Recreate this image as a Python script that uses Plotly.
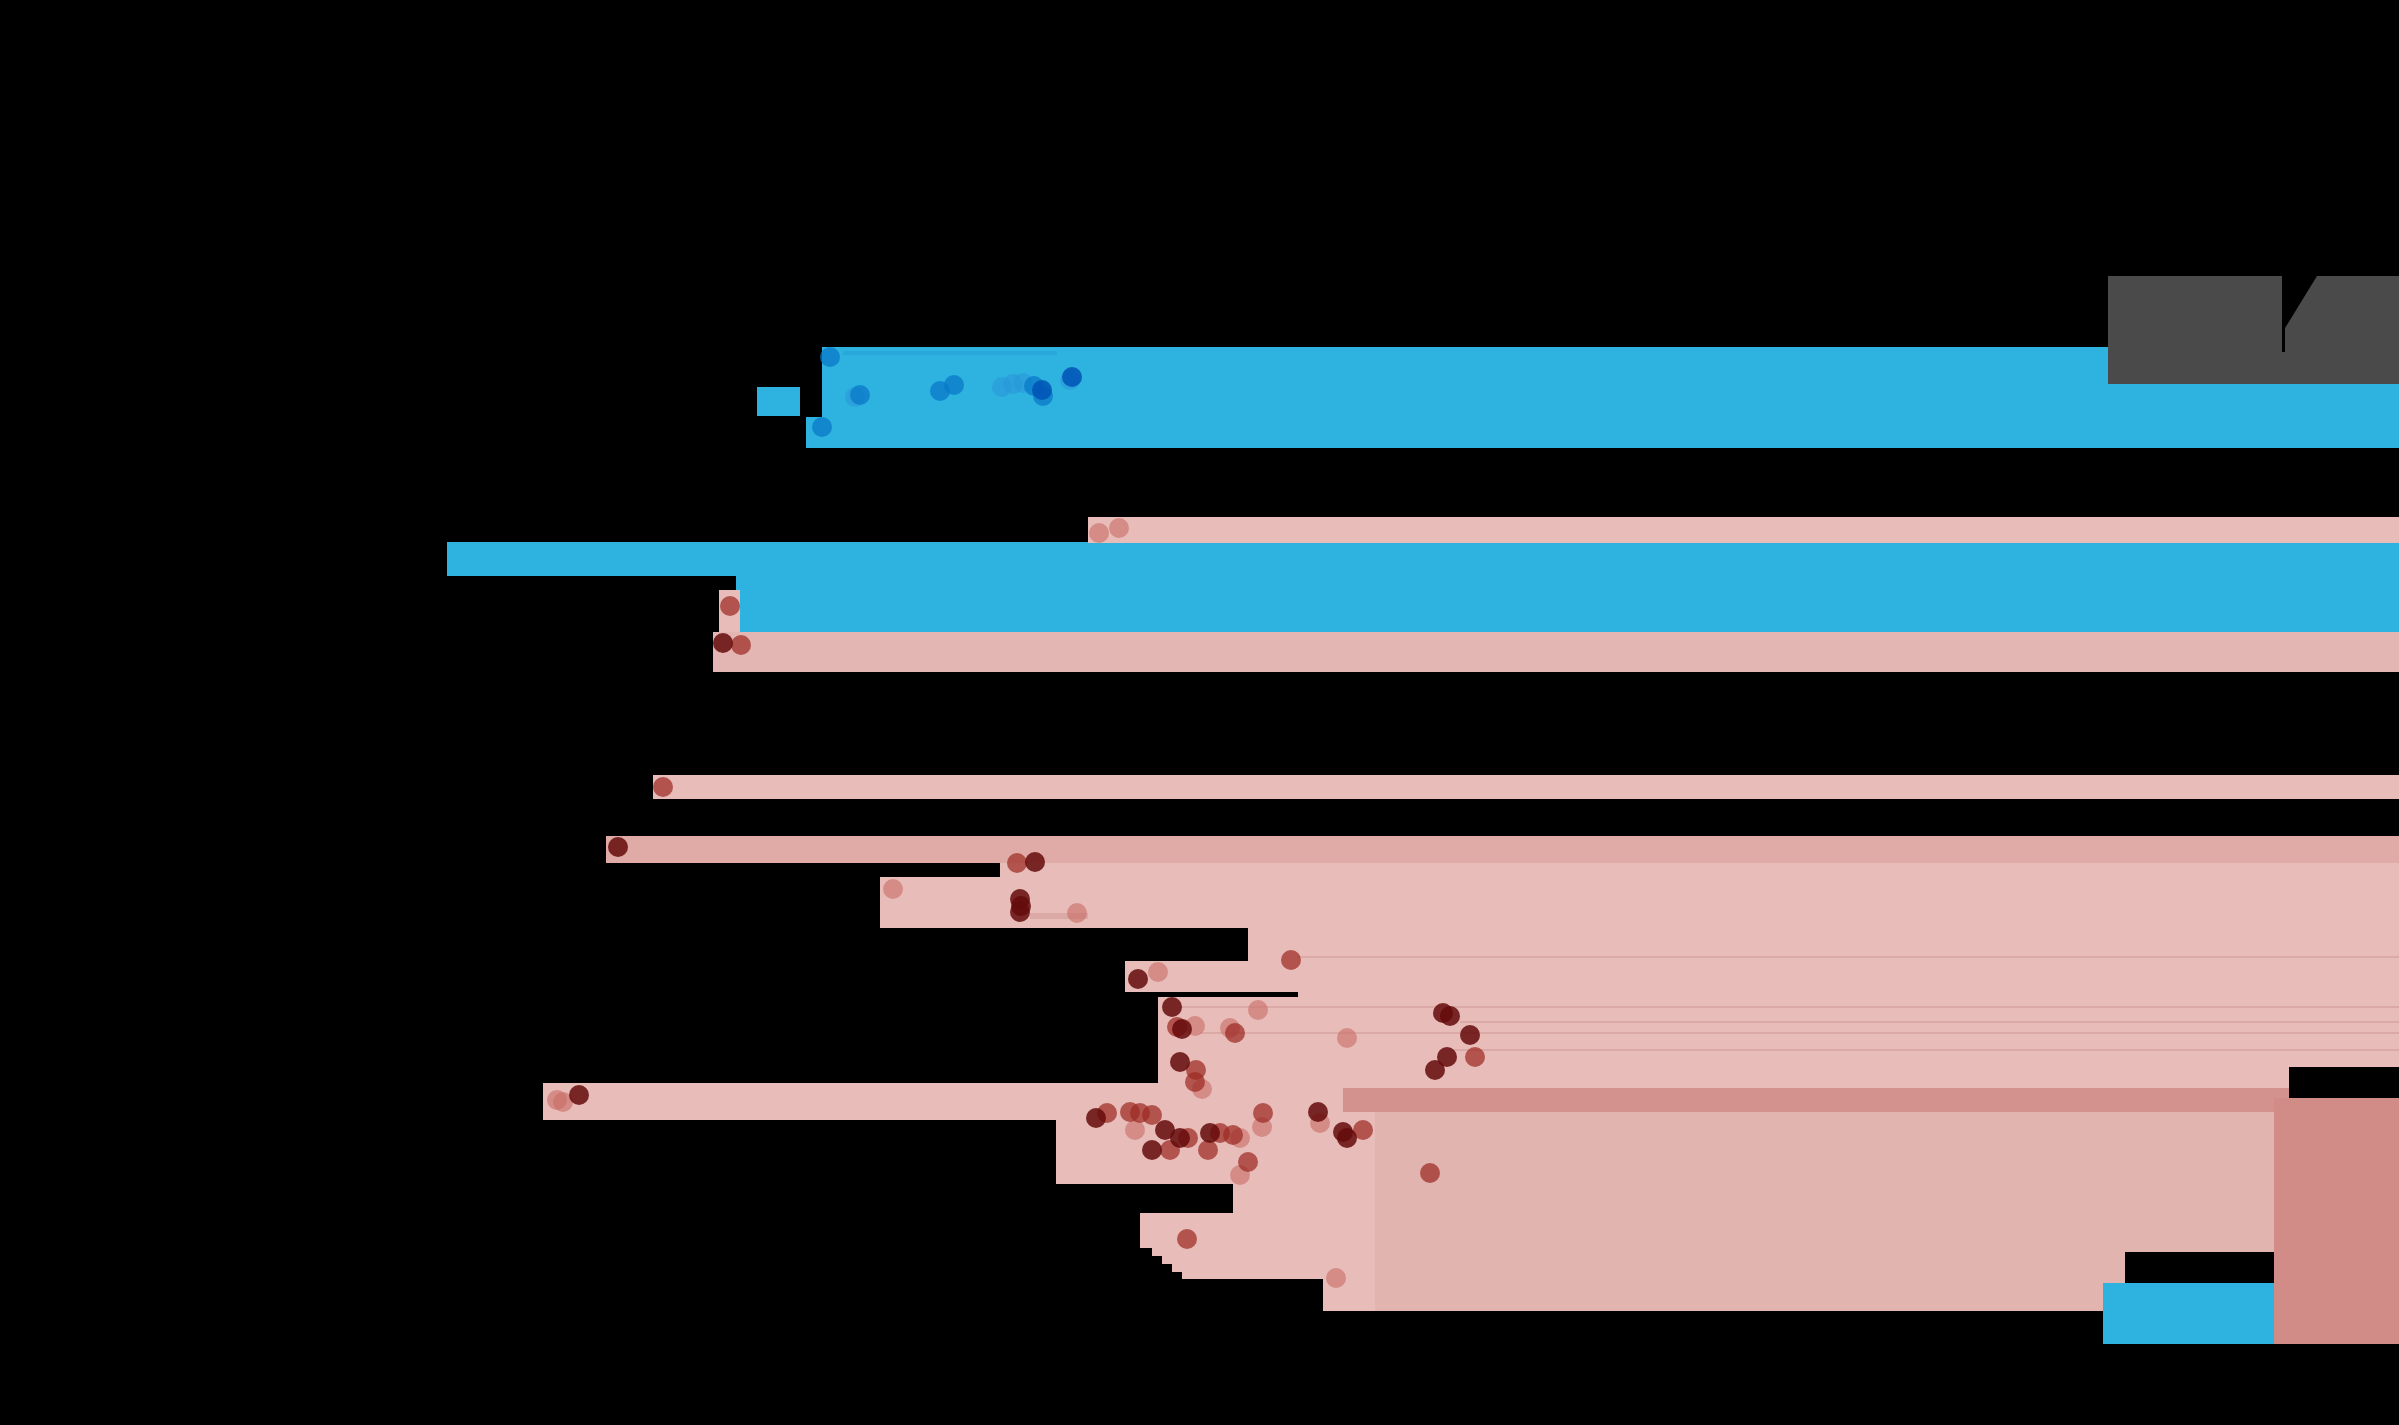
import plotly.graph_objects as go

# ---- canvas extent (data units = pixels of the original picture)
canvas_w = 2399
canvas_h = 1425

# ---- horizontal bands: top, bottom, left, right, tone
band_top    = [347, 417, 387, 351, 542, 576, 517, 590, 632, 775, 836, 863, 877, 928, 961, 992, 997, 1083, 1120, 1184, 1213, 1248, 1256, 1264, 1272, 1279, 1112, 1006, 1021, 1032, 1049, 956, 913, 1088, 1098, 1067, 1252, 1283, 276]
band_bottom = [417, 448, 416, 355, 576, 632, 543, 632, 672, 799, 863, 877, 928, 961, 992, 997, 1083, 1120, 1184, 1213, 1248, 1256, 1264, 1272, 1279, 1311, 1311, 1008, 1023, 1034, 1051, 958, 919, 1112, 1344, 1098, 1283, 1344, 384]
band_left   = [822, 806, 757, 843, 447, 736, 1088, 719, 713, 653, 606, 1000, 880, 1248, 1125, 1298, 1158, 543, 1056, 1233, 1140, 1152, 1162, 1172, 1182, 1323, 1375, 1180, 1460, 1200, 1450, 1297, 1030, 1343, 2274, 2289, 2125, 2103, 2108]
band_right  = [2399, 2399, 800, 1057, 2399, 2399, 2399, 740, 2399, 2399, 2399, 2399, 2399, 2399, 2399, 2399, 2399, 2399, 2274, 2274, 2274, 2274, 2274, 2274, 2274, 2103, 2274, 2399, 2399, 2399, 2399, 2399, 1088, 2289, 2399, 2399, 2274, 2274, 2399]
band_tone   = ["blue", "blue", "blue", "blue2", "blue", "blue", "pink", "pink", "pink2", "pink", "pink3", "pink", "pink", "pink", "pink", "pink", "pink", "pink", "pink", "pink", "pink", "pink", "pink", "pink", "pink", "pink", "pinklow", "line", "line", "line", "line", "line", "line", "rose", "rosecol", "black", "black", "blue", "grey"]

# notch in the grey block
notch_x = [2282, 2317, 2285, 2285, 2282]
notch_y = [276, 276, 328, 352, 352]

# ---- dots
blue_x    = [830, 822, 855, 860, 940, 954, 1002, 1013, 1023, 1034, 1042, 1043, 1070, 1072]
blue_y    = [357, 427, 397, 395, 391, 385, 387, 384, 383, 386, 390, 396, 380, 377]
blue_tone = [1, 1, 0, 1, 1, 1, 0, 0, 0, 1, 2, 1, 0, 2]

red_x = [1099, 1119, 730, 723, 741, 663, 618, 1017, 1035, 893, 1020, 1020, 1077,
         1291, 1138, 1158, 1172, 1182, 1177, 1195, 1180, 1196, 1195, 1202, 1235, 1230,
         1258, 1347, 1443, 1450, 1470, 1447, 1435, 1475, 557, 563, 579,
         1096, 1107, 1130, 1140, 1152, 1135, 1165, 1180, 1188, 1210, 1220, 1233, 1240,
         1152, 1170, 1208, 1263, 1262, 1248, 1240, 1318, 1320, 1343, 1363, 1347,
         1430, 1187, 1336, 1021]
red_y = [533, 528, 606, 643, 645, 787, 847, 863, 862, 889, 899, 912, 913,
         960, 979, 972, 1007, 1029, 1027, 1026, 1062, 1070, 1082, 1089, 1033, 1028,
         1010, 1038, 1013, 1016, 1035, 1057, 1070, 1057, 1100, 1102, 1095,
         1118, 1113, 1112, 1113, 1115, 1130, 1130, 1138, 1138, 1133, 1133, 1135, 1138,
         1150, 1150, 1150, 1113, 1127, 1162, 1175, 1112, 1123, 1132, 1130, 1138,
         1173, 1239, 1278, 906]
red_tone = [0, 0, 1, 2, 1, 1, 2, 1, 2, 0, 2, 2, 0,
            1, 2, 0, 2, 2, 1, 0, 2, 1, 1, 0, 1, 0,
            0, 0, 2, 2, 2, 2, 2, 1, 0, 0, 2,
            2, 1, 1, 1, 1, 0, 2, 2, 1, 2, 1, 1, 0,
            2, 1, 1, 1, 0, 1, 0, 2, 0, 2, 1, 2,
            1, 1, 0, 2]

# ---- styles
tone_color = {
    "blue": "#2eb2e0", "blue2": "#28a8da", "pink": "#e8bdb9", "pink2": "#e4b6b3",
    "pink3": "#e0aba7", "pinklow": "#e2b4b0", "line": "#dcaaa6", "rose": "#d3928e",
    "rosecol": "#d18c88", "black": "#000000", "grey": "#4a4a4a",
}
blue_dot = [("#2a95d8", 0.55), ("#0a78c8", 0.75), ("#0054b4", 0.85)]
red_dot = [("#c86a64", 0.6), ("#9c2a24", 0.72), ("#640a0a", 0.85)]

fig = go.Figure()
for t, b, l, r, tone in zip(band_top, band_bottom, band_left, band_right, band_tone):
    fig.add_trace(go.Bar(
        orientation="h", y=[(t + b) / 2], x=[r - l], base=[l], width=[b - t],
        marker=dict(color=tone_color[tone], line=dict(width=0)),
        hoverinfo="skip",
    ))

fig.add_trace(go.Scatter(x=notch_x, y=notch_y, mode="lines", fill="toself",
                         fillcolor="#000000", line=dict(width=0), hoverinfo="skip"))

for level in range(3):
    xs = [x for x, tn in zip(blue_x, blue_tone) if tn == level]
    ys = [y for y, tn in zip(blue_y, blue_tone) if tn == level]
    c, o = blue_dot[level]
    fig.add_trace(go.Scatter(x=xs, y=ys, mode="markers",
                             marker=dict(size=20, color=c, opacity=o, line=dict(width=0))))
for level in range(3):
    xs = [x for x, tn in zip(red_x, red_tone) if tn == level]
    ys = [y for y, tn in zip(red_y, red_tone) if tn == level]
    c, o = red_dot[level]
    fig.add_trace(go.Scatter(x=xs, y=ys, mode="markers",
                             marker=dict(size=20, color=c, opacity=o, line=dict(width=0))))

fig.update_layout(
    width=canvas_w, height=canvas_h,
    margin=dict(l=0, r=0, t=0, b=0, pad=0),
    paper_bgcolor="#000000", plot_bgcolor="#000000",
    showlegend=False, barmode="overlay", bargap=0,
    xaxis=dict(range=[0, canvas_w], visible=False, fixedrange=True),
    yaxis=dict(range=[canvas_h, 0], visible=False, fixedrange=True),
)

fig.write_html("out.html")
